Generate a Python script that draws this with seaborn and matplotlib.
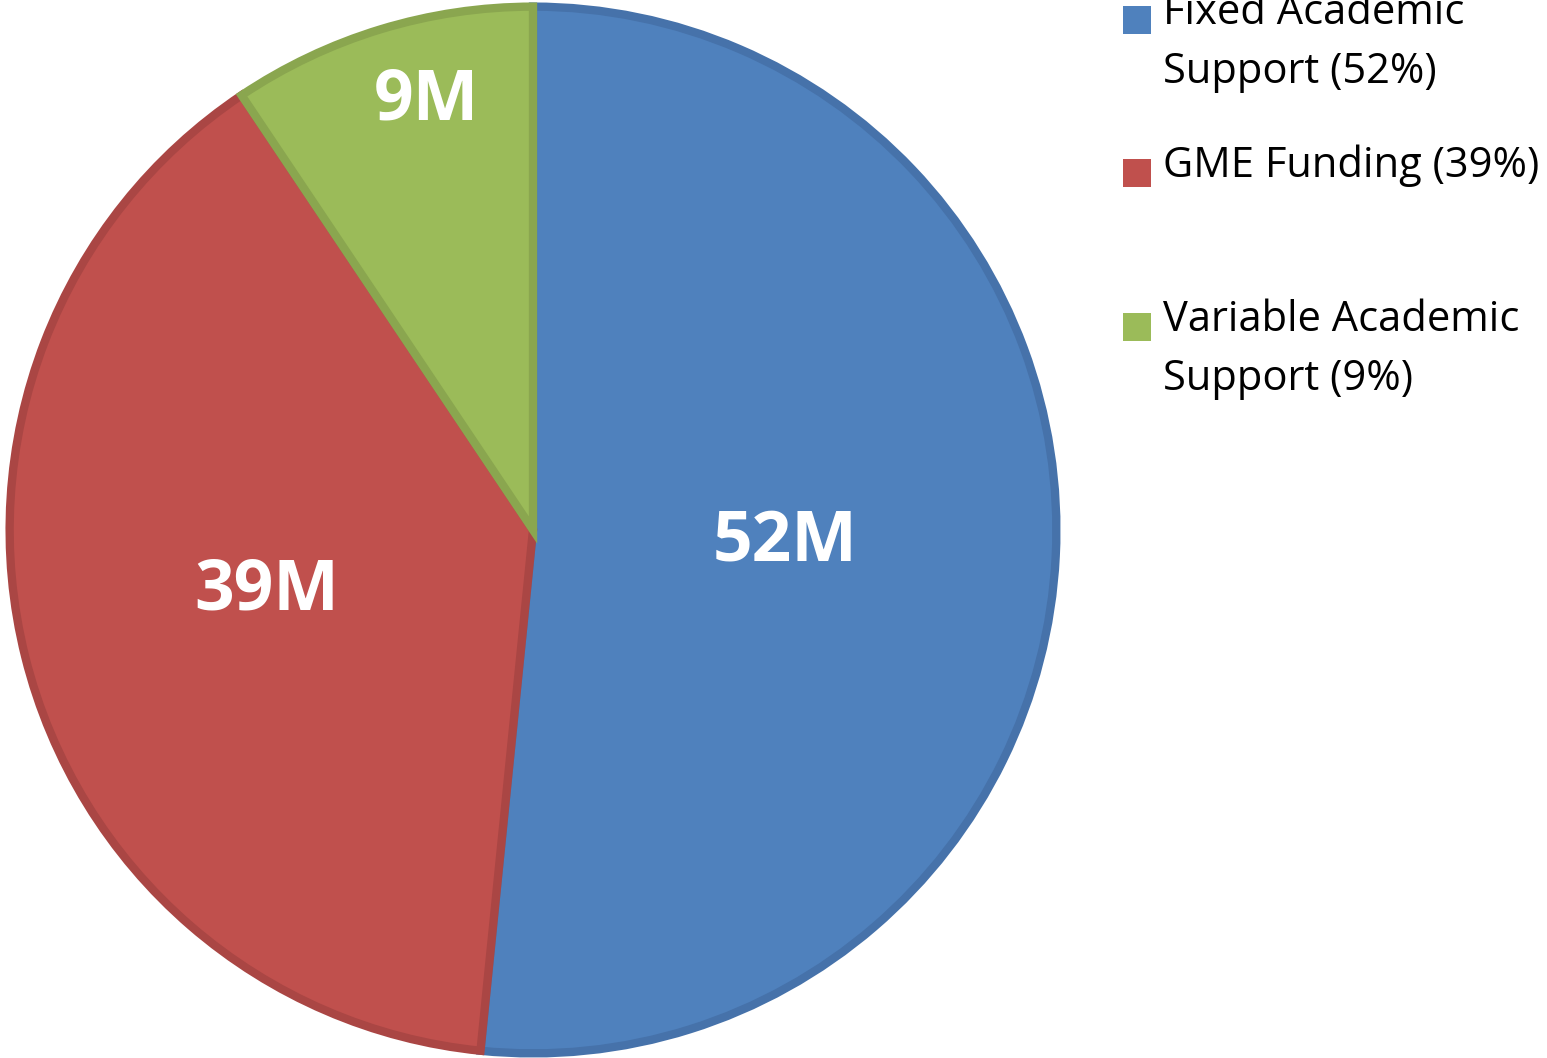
import matplotlib.pyplot as plt
import numpy as np
import seaborn as sns

# ── Data ────────────────────────────────────────────────────────────────────
categories = ["Fixed Academic\nSupport", "GME Funding", "Variable Academic\nSupport"]
values_m = [51.6, 39.0, 9.4]
percents = [52, 39, 9]

face_colors = ["#4F81BD", "#C0504D", "#9BBB59"]
edge_colors = ["#4672AA", "#AA4644", "#8AA64F"]

sns.set_theme(style="white")
plt.rcParams["font.family"] = ["Open Sans", "DejaVu Sans"]

fig = plt.figure(figsize=(15.47, 10.58), dpi=100)
ax = fig.add_axes([7 / 1547, 2 / 1058, 1052 / 1547, 1052 / 1058])

wedges, _ = ax.pie(
    values_m,
    colors=face_colors,
    startangle=90,
    counterclock=False,
    radius=0.995,
    wedgeprops={"linewidth": 6, "joinstyle": "miter"},
)
for w, ec in zip(wedges, edge_colors):
    w.set_edgecolor(ec)

ax.set_xlim(-1, 1)
ax.set_ylim(-1, 1)
ax.set_aspect("equal")
ax.axis("off")

# value labels inside the wedges
label_radius = [0.48, 0.52, 0.84]
label_nudge = [0, -1, -3]
for w, v, r, d in zip(wedges, values_m, label_radius, label_nudge):
    ang = np.deg2rad((w.theta1 + w.theta2) / 2 + d)
    ax.text(r * np.cos(ang), r * np.sin(ang), f"{v:.0f}M", color="white",
            fontsize=50, fontweight="bold", ha="center", va="center")

# legend drawn by hand (uneven Excel-style spacing)
legend_baselines = [24, 177, 331]
for cat, pct, col, y in zip(categories, percents, face_colors, legend_baselines):
    fy = 1 - y / 1058
    fig.patches.append(plt.Rectangle((1123 / 1547, fy - 10 / 1058), 28 / 1547, 28 / 1058,
                                     transform=fig.transFigure, facecolor=col,
                                     edgecolor="none"))
    n_extra = cat.count("\n")
    fig.text(1163 / 1547, fy - n_extra * 59 / 1058, f"{cat} ({pct}%)", fontsize=30,
             color="black", ha="left", va="baseline", linespacing=1.54)

fig.savefig("out.png", dpi=100)
